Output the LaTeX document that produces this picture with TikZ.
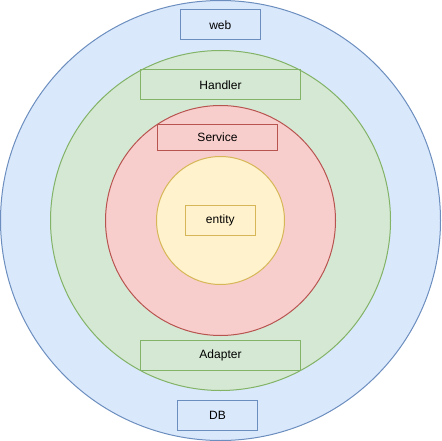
\documentclass[tikz,border=0pt]{standalone}
\usepackage{fontspec}
\setmainfont{Liberation Sans}
\definecolor{bfill}{HTML}{DAE8FC}\definecolor{bline}{HTML}{6C8EBF}
\definecolor{gfill}{HTML}{D5E8D4}\definecolor{gline}{HTML}{82B366}
\definecolor{rfill}{HTML}{F8CECC}\definecolor{rline}{HTML}{B85450}
\definecolor{yfill}{HTML}{FFF2CC}\definecolor{yline}{HTML}{D6B656}
\begin{document}
\begin{tikzpicture}[x=1pt,y=-1pt,line width=1pt,
  ring/.style={circle,inner sep=0pt,minimum size=#1},
  lbl/.style={rectangle,inner sep=0pt,font=\fontsize{12}{14}\selectfont,text=black}]
\useasboundingbox (0,0) rectangle (441,441);
\node[ring=440pt,draw=bline,fill=bfill] (outer) at (220.5,220.5) {};
\node[ring=340pt,draw=gline,fill=gfill] (green) at (220.5,220.5) {};
\node[ring=230pt,draw=rline,fill=rfill] (red) at (220.5,220.5) {};
\node[ring=128pt,draw=yline,fill=yfill] (yellow) at (220.5,220.5) {};
\node[lbl,draw=bline,minimum width=80pt,minimum height=30pt] (web) at (220.3,25) {web};
\node[lbl,draw=gline,minimum width=160pt,minimum height=30pt] (handler) at (220.5,85) {Handler};
\node[lbl,draw=rline,minimum width=120pt,minimum height=26pt] (service) at (217.5,137.5) {Service};
\node[lbl,draw=yline,minimum width=70pt,minimum height=30pt] (entity) at (220.3,220.2) {entity};
\node[lbl,draw=gline,minimum width=160pt,minimum height=30pt] (adapter) at (220.5,355.3) {Adapter};
\node[lbl,draw=bline,minimum width=80pt,minimum height=30pt] (db) at (217.5,415.2) {DB};
\end{tikzpicture}
\end{document}
